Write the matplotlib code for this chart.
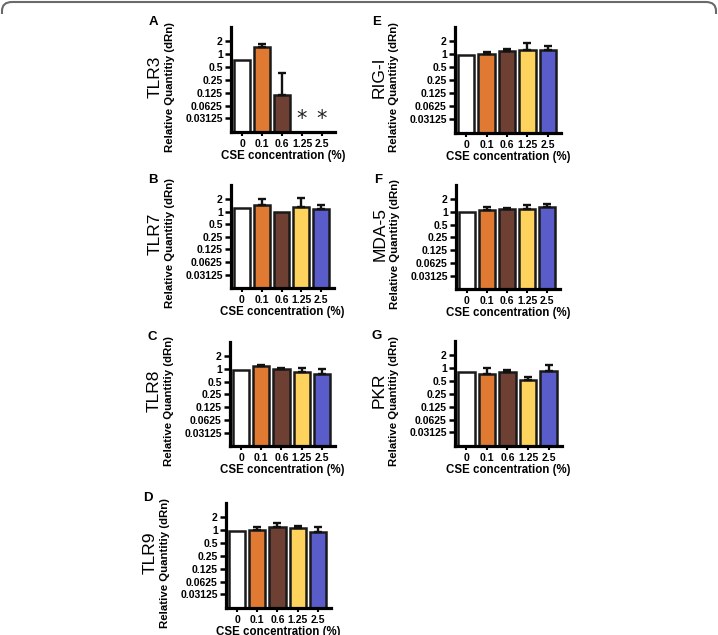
import numpy as np
import matplotlib.pyplot as plt
from matplotlib.patches import FancyBboxPatch, Rectangle

plt.rcParams['font.family'] = ['Liberation Sans', 'DejaVu Sans']

conc = ['0', '0.1', '0.6', '1.25', '2.5']
bar_colors = ['#ffffff', '#e07a32', '#6e3f33', '#fdd35e', '#5a5dc9']
yticks = [2, 1, 0.5, 0.25, 0.125, 0.0625, 0.03125]
ytick_labels = ['2', '1', '0.5', '0.25', '0.125', '0.0625', '0.03125']

# mean relative quantity and top of the (upper) error bar, per gene
tlr3 = [0.73, 1.43, 0.108, np.nan, np.nan]
tlr3_top = [np.nan, 1.76, 0.37, np.nan, np.nan]
tlr7 = [1.19, 1.45, 0.97, 1.26, 1.15]
tlr7_top = [np.nan, 1.97, np.nan, 2.14, 1.45]
tlr8 = [0.95, 1.15, 1.0, 0.84, 0.77]
tlr8_top = [np.nan, 1.23, 1.07, 1.06, 1.0]
tlr9 = [0.97, 1.02, 1.2, 1.11, 0.91]
tlr9_top = [np.nan, 1.15, 1.46, 1.26, 1.21]
rigi = [0.97, 1.03, 1.2, 1.27, 1.27]
rigi_top = [np.nan, 1.13, 1.36, 1.82, 1.57]
mda5 = [0.97, 1.11, 1.15, 1.19, 1.33]
mda5_top = [np.nan, 1.33, 1.26, 1.43, 1.5]
pkr = [0.8, 0.74, 0.8, 0.52, 0.84]
pkr_top = [np.nan, 0.98, 0.9, 0.61, 1.17]

W, H = 718, 635
fig = plt.figure(figsize=(W / 100, H / 100), dpi=100)

# rounded frame, only its top edge shows
frame = FancyBboxPatch((2 / W, -0.2), 1 - 4 / W, 1.2 - 2 / H,
                       boxstyle='round,pad=0,rounding_size=0.014',
                       transform=fig.transFigure, fill=False,
                       edgecolor='#6a6a6a', linewidth=1.5)
clip = Rectangle((0, 1 - 14 / H), 1, 14 / H, transform=fig.transFigure)
frame.set_clip_path(clip)
fig.patches.append(frame)


def panel(letter, gene, vals, tops, l, t, r, b, stars=()):
    ax = fig.add_axes([l / W, 1 - b / H, (r - l) / W, (b - t) / H])
    x = np.arange(len(conc))
    vals = np.array(vals, dtype=float)
    tops = np.array(tops, dtype=float)
    ax.set_yscale('log', base=2)
    ax.bar(x, np.nan_to_num(vals, nan=1e-4), width=0.8, color=bar_colors,
           edgecolor='#1a1a1a', linewidth=1.8, zorder=2)
    ok = ~np.isnan(tops)
    ax.errorbar(x[ok], vals[ok], yerr=[np.zeros(ok.sum()), tops[ok] - vals[ok]],
                fmt='none', ecolor='#111111', elinewidth=1.7, capsize=3,
                capthick=1.7, zorder=3)
    for s in stars:
        ax.text(s, 0.031, '*', ha='center', va='center', fontsize=15,
                family='DejaVu Sans', color='#222222')
    ax.set_ylim(2 ** -6.05, 2 ** 2.1)
    ax.set_xlim(-0.55, 4.65)
    ax.set_yticks(yticks)
    ax.set_yticklabels(ytick_labels)
    ax.yaxis.set_minor_locator(plt.NullLocator())
    ax.set_xticks(x)
    ax.set_xticklabels(conc)
    for sp in ['top', 'right']:
        ax.spines[sp].set_visible(False)
    for sp in ['left', 'bottom']:
        ax.spines[sp].set_linewidth(2.3)
    ax.tick_params(axis='y', length=4, width=1.8, pad=2, labelsize=7.5)
    ax.tick_params(axis='x', length=3, width=1.5, pad=2, labelsize=7.5)
    for lab in ax.get_xticklabels() + ax.get_yticklabels():
        lab.set_fontweight('bold')
    ax.set_xlabel('CSE concentration (%)', fontsize=8.3, fontweight='bold',
                  labelpad=1)
    cy = (t + b) / 2
    fig.text((l - 61) / W, 1 - (cy + 7) / H, 'Relative Quantitiy (dRn)',
             rotation=90, ha='center', va='center', fontsize=8.2,
             fontweight='bold')
    fig.text((l - 76) / W, 1 - (cy - 3) / H, gene, rotation=90,
             ha='center', va='center', fontsize=12.5)
    fig.text((l - 78) / W, 1 - (t - 5) / H, letter, ha='center',
             va='center', fontsize=9.5, fontweight='bold')
    return ax


panel('A', 'TLR3', tlr3, tlr3_top, 231, 27, 335, 132, stars=(3, 4))
panel('B', 'TLR7', tlr7, tlr7_top, 231, 185, 334, 288)
panel('C', 'TLR8', tlr8, tlr8_top, 230, 342, 335, 446)
panel('D', 'TLR9', tlr9, tlr9_top, 226, 503, 331, 608)
panel('E', 'RIG-I', rigi, rigi_top, 455, 27, 561, 133)
panel('F', 'MDA-5', mda5, mda5_top, 456, 185, 560, 289)
panel('G', 'PKR', pkr, pkr_top, 455, 341, 562, 446)

fig.savefig('out.png', dpi=100)
